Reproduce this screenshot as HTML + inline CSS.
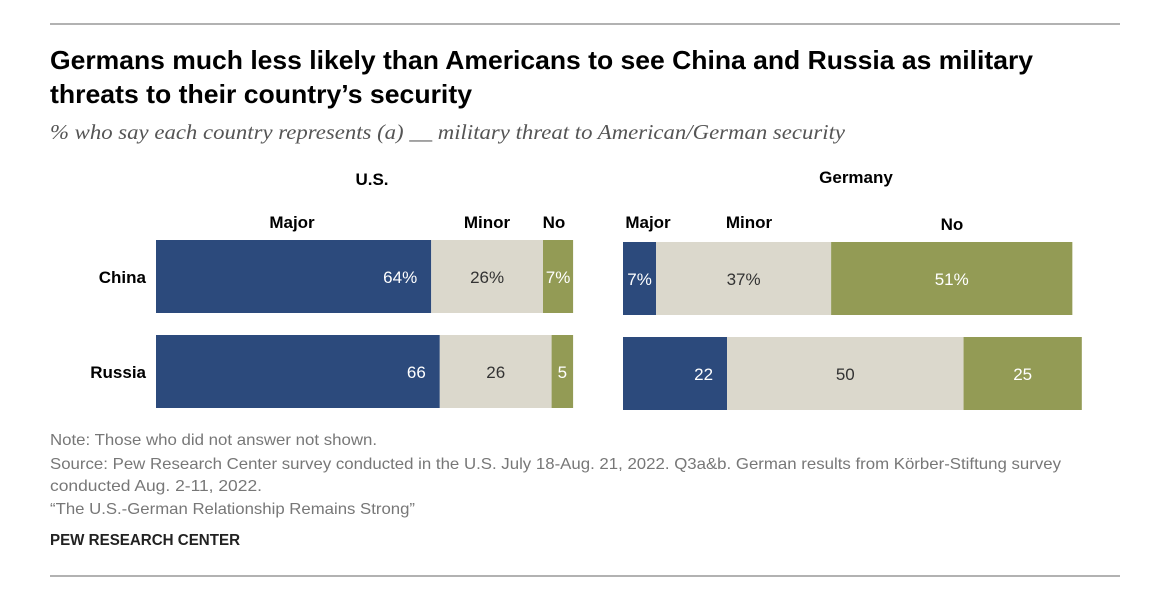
<!DOCTYPE html>
<html><head><meta charset="utf-8"><style>
body{margin:0;background:#fff;width:1170px;height:599px;overflow:hidden;font-family:"Liberation Sans",sans-serif;}
svg{display:block}
</style></head><body>
<svg id="c" width="1170" height="599">
<line x1="50" y1="24" x2="1120" y2="24" stroke="#999" stroke-width="1.5"/>
<text x="50" y="69" font-size="26" font-weight="bold" fill="#000" textLength="983" lengthAdjust="spacingAndGlyphs">Germans much less likely than Americans to see China and Russia as military</text>
<text x="50" y="103" font-size="26" font-weight="bold" fill="#000" textLength="422" lengthAdjust="spacingAndGlyphs">threats to their country’s security</text>
<text x="50" y="139" font-size="21" font-style="italic" fill="#555" font-family="Liberation Serif, serif" textLength="795" lengthAdjust="spacingAndGlyphs">% who say each country represents (a) __ military threat to American/German security</text>
<text x="372" y="185" font-size="17" font-weight="bold" text-anchor="middle">U.S.</text>
<text x="856" y="183" font-size="17" font-weight="bold" text-anchor="middle">Germany</text>
<g id="bars"></g>
<text x="50" y="445" font-size="16" fill="#777" textLength="327" lengthAdjust="spacingAndGlyphs">Note: Those who did not answer not shown.</text>
<text x="50" y="469" font-size="16" fill="#777" textLength="1011" lengthAdjust="spacingAndGlyphs">Source: Pew Research Center survey conducted in the U.S. July 18-Aug. 21, 2022. Q3a&amp;b. German results from Körber-Stiftung survey</text>
<text x="50" y="491" font-size="16" fill="#777" textLength="212" lengthAdjust="spacingAndGlyphs">conducted Aug. 2-11, 2022.</text>
<text x="50" y="514" font-size="16" fill="#777" textLength="365" lengthAdjust="spacingAndGlyphs">“The U.S.-German Relationship Remains Strong”</text>
<text x="50" y="545" font-size="16" font-weight="bold" fill="#222" textLength="190" lengthAdjust="spacingAndGlyphs">PEW RESEARCH CENTER</text>
<line x1="50" y1="576" x2="1120" y2="576" stroke="#999" stroke-width="1.5"/>
</svg>
<script>
const countries=["China","Russia"];
const usMajor=[64,66], usMinor=[26,26], usNo=[7,5];
const deMajor=[7,22], deMinor=[37,50], deNo=[51,25];
const usLabels=[["64%","26%","7%"],["66","26","5"]];
const deLabels=[["7%","37%","51%"],["22","50","25"]];
const colors=["#2c4a7c","#dbd8cc","#939b55"], tcol=["#fff","#333","#fff"];
const NS="http://www.w3.org/2000/svg", g=document.getElementById("bars");
function usX(v){return 156+v*4.3;}
function deX(v){return 623+v*4.73;}
function mk(tag,a){const e=document.createElementNS(NS,tag);for(const k in a)e.setAttribute(k,a[k]);g.appendChild(e);return e;}
function panel(maj,min,no,labels,xf,ys,pfx){
 countries.forEach((c,i)=>{
  const vals=[maj[i],min[i],no[i]];let cum=0;
  vals.forEach((v,j)=>{
   const x0=xf(cum),x1=xf(cum+v);cum+=v;
   const r=mk("rect",{x:x0,y:ys[i],width:x1-x0,height:73,fill:colors[j]});
   
   
   const t=mk("text",{x:j==0&&v>15?x1-14:(x0+x1)/2,y:ys[i]+43,"font-size":17,fill:tcol[j],"text-anchor":j==0&&v>15?"end":"middle"});
   t.textContent=labels[i][j];
   
   
  });
 });
}
panel(usMajor,usMinor,usNo,usLabels,usX,[240,335],"us");
panel(deMajor,deMinor,deNo,deLabels,deX,[242,337],"de");
countries.forEach((c,i)=>{
 const t=mk("text",{x:146,y:[283,378][i],"font-size":17,"font-weight":"bold","text-anchor":"end"});
 t.textContent=c;
 
 
});
const heads=[["Major",292,228],["Minor",487,228],["No",554,228],["Major",648,228],["Minor",749,228],["No",952,230]];
heads.forEach((h,i)=>{
 const t=mk("text",{x:h[1],y:h[2],"font-size":17,"font-weight":"bold","text-anchor":"middle"});
 t.textContent=h[0];
 
 
});
</script>
</body></html>
